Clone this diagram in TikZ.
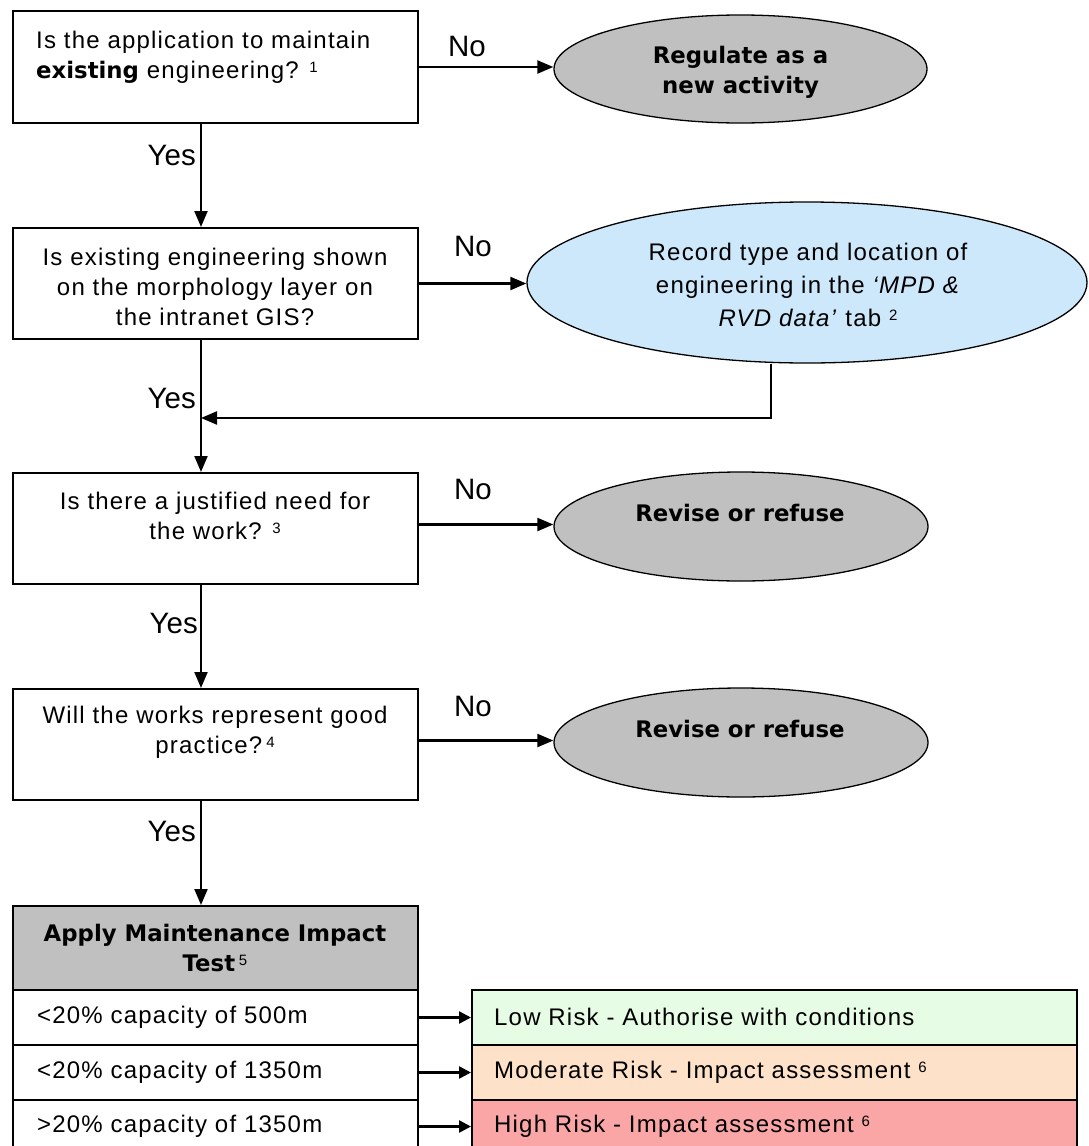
\documentclass[tikz,border=0pt]{standalone}
\usepackage{fontspec}
\setmainfont{Liberation Sans}[LetterSpace=5]
\newfontfamily\plainsans{Liberation Sans}
\newfontfamily\widesans{DejaVu Sans}
\usetikzlibrary{shapes.geometric,arrows.meta}

\definecolor{shapegray}{RGB}{192,192,192}
\definecolor{recblue}{RGB}{204,232,250}
\definecolor{lowrisk}{RGB}{230,252,228}
\definecolor{modrisk}{RGB}{253,226,201}
\definecolor{highrisk}{RGB}{251,166,166}

\newcommand\bodyfont{\fontsize{24}{30}\selectfont}
\newcommand\headfont{\widesans\bfseries\fontsize{22.8}{30}\selectfont}
\newcommand\ynfont{\plainsans\fontsize{29.5}{30}\selectfont}
\newcommand\supn[1]{\raisebox{6pt}{\fontsize{15}{15}\selectfont #1}}

\tikzset{
  qbox/.style={draw, line width=2pt, minimum width=405pt, inner sep=0pt, anchor=north west},
  oval/.style={ellipse, draw, line width=1.3pt, inner sep=0pt},
  cell/.style={draw, line width=2pt, inner sep=0pt, anchor=north west},
  arr/.style={line width=2.2pt, -{Triangle[length=16pt,width=13pt]}},
  sarr/.style={line width=2.4pt, -{Triangle[length=12pt,width=12pt]}},
  body/.style={font=\bodyfont, align=center, inner sep=0pt},
  bold/.style={font=\headfont, align=center, inner sep=0pt},
  yn/.style={font=\ynfont, inner sep=0pt},
}

\begin{document}
\begin{tikzpicture}[x=1pt,y=-1pt]
\useasboundingbox (0,0) rectangle (1089,1146);

% main column of questions
\node[qbox, minimum height=112pt] (q1) at (12,10) {};
\node[qbox, minimum height=111pt] (q2) at (12,227) {};
\node[qbox, minimum height=111pt] (q3) at (12,472) {};
\node[qbox, minimum height=111pt] (q4) at (12,688) {};

\node[body, align=left, anchor=west] (q1t) at (36,57)
  {Is the application to maintain\\{\widesans\bfseries\fontsize{22.8}{30}\selectfont existing} engineering? \supn{1}};
\node[body] (q2t) at (215,287)
  {Is existing engineering shown\\on the morphology layer on\\the intranet GIS?};
\node[body] (q3t) at (215,516)
  {Is there a justified need for\\the work? \supn{3}};
\node[body] (q4t) at (215,732)
  {Will the works represent good\\practice?\,\supn{4}};

% outcomes on the right
\node[oval, fill=shapegray, minimum width=373pt, minimum height=108pt] (e1) at (740.5,69) {};
\node[bold] (e1t) at (740.5,72) {Regulate as a\\new activity};

\node[oval, fill=recblue, minimum width=560pt, minimum height=161pt] (bl) at (807,282.5) {};
\node[body, font=\fontsize{24}{33}\selectfont] (blt) at (808,285)
  {Record type and location of\\engineering in the \textit{‘MPD \&}\\\textit{RVD data’} tab \supn{2}};

\node[oval, fill=shapegray, minimum width=374pt, minimum height=109pt] (r1) at (741,526.5) {};
\node[bold] (r1t) at (740,513) {Revise or refuse};

\node[oval, fill=shapegray, minimum width=374pt, minimum height=109pt] (r2) at (741,742.5) {};
\node[bold] (r2t) at (740,729) {Revise or refuse};

% maintenance impact test table
\node[cell, fill=shapegray, minimum width=405pt, minimum height=84pt] (hd) at (12,905) {};
\node[bold] (hdt) at (215,948) {Apply Maintenance Impact\\Test\,{\rmfamily\mdseries\supn{5}}};
\node[cell, minimum width=405pt, minimum height=55pt] (c1) at (12,989) {};
\node[cell, minimum width=405pt, minimum height=55pt] (c2) at (12,1044) {};
\node[cell, minimum width=405pt, minimum height=53pt] (c3) at (12,1099) {};
\node[body, anchor=west] (c1t) at (37,1017) {<20\% capacity of 500m};
\node[body, anchor=west] (c2t) at (37,1072) {<20\% capacity of 1350m};
\node[body, anchor=west] (c3t) at (37,1126) {>20\% capacity of 1350m};

\node[cell, fill=lowrisk, minimum width=605pt, minimum height=55pt] (k1) at (471,989) {};
\node[cell, fill=modrisk, minimum width=605pt, minimum height=55pt] (k2) at (471,1044) {};
\node[cell, fill=highrisk, minimum width=605pt, minimum height=53pt] (k3) at (471,1099) {};
\node[body, anchor=west] (k1t) at (494,1017) {Low Risk - Authorise with conditions};
\node[body, anchor=west] (k2t) at (494,1072) {Moderate Risk - Impact assessment \supn{6}};
\node[body, anchor=west] (k3t) at (494,1126) {High Risk - Impact assessment \supn{6}};

% spine and feedback coordinates
\coordinate (sp) at (201,0);
\coordinate (fb) at (771,418);
\coordinate (jn) at (201,418);

% Yes branches
\draw[arr] (q1.south -| sp) -- (q2.north -| sp);
\draw[arr] (q2.south -| sp) -- (q3.north -| sp);
\draw[arr] (q3.south -| sp) -- (q4.north -| sp);
\draw[arr] (q4.south -| sp) -- (hd.north -| sp);
\draw[arr] (bl.south -| fb) -- (fb) -- (jn);

% No branches
\draw[arr] (q1.east) -- (q1.east -| e1.west);
\draw[arr] (q2.east) -- (q2.east -| bl.west);
\draw[arr] ([yshift=4pt]q3.east) -- ([yshift=4pt]q3.east -| r1.west);
\draw[arr] ([yshift=4pt]q4.east) -- ([yshift=4pt]q4.east -| r2.west);

% table rows to risk levels
\draw[sarr] (c1.east) -- (k1.west);
\draw[sarr] (c2.east) -- (k2.west);
\draw[sarr] (c3.east) -- (k3.west);

% branch labels
\node[yn, anchor=east] (y1) at (196,155) {Yes};
\node[yn, anchor=east] (y2) at (196,398) {Yes};
\node[yn, anchor=east] (y3) at (198,623) {Yes};
\node[yn, anchor=east] (y4) at (196,831) {Yes};
\node[yn] (n1) at (467,46) {No};
\node[yn] (n2) at (473,246) {No};
\node[yn] (n3) at (473,489) {No};
\node[yn] (n4) at (473,706) {No};
\end{tikzpicture}
\end{document}
